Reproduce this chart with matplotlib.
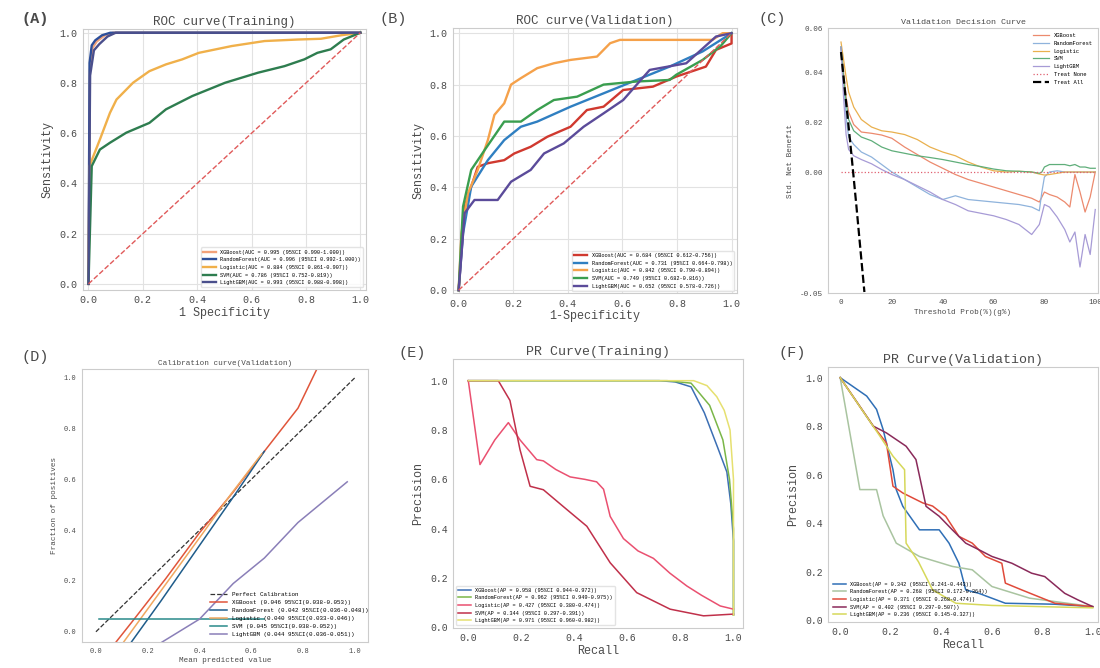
import matplotlib
matplotlib.use("Agg")
import matplotlib.pyplot as plt

plt.rcParams['font.family'] = ['Liberation Mono', 'DejaVu Sans']

MODELS = ["XGBoost", "RandomForest", "Logistic", "SVM", "LightGBM"]

# ---- (A) ROC training
roc_tr_fpr = {
    "XGBoost": [0, 0.005, 0.015, 0.03, 0.06, 0.09, 1.0],
    "RandomForest": [0, 0.004, 0.012, 0.025, 0.05, 0.08, 1.0],
    "Logistic": [0, 0.004, 0.018, 0.042, 0.079, 0.103, 0.164, 0.224, 0.285, 0.345, 0.406,
                 0.527, 0.648, 0.77, 0.855, 0.93, 1.0],
    "SVM": [0, 0.012, 0.042, 0.079, 0.139, 0.224, 0.285, 0.382, 0.503, 0.624, 0.721,
            0.794, 0.842, 0.891, 0.939, 1.0],
    "LightGBM": [0, 0.006, 0.02, 0.04, 0.07, 0.1, 1.0],
}
roc_tr_tpr = {
    "XGBoost": [0, 0.85, 0.94, 0.965, 0.99, 1.0, 1.0],
    "RandomForest": [0, 0.88, 0.95, 0.97, 0.99, 1.0, 1.0],
    "Logistic": [0, 0.469, 0.509, 0.575, 0.681, 0.734, 0.801, 0.847, 0.874, 0.894, 0.92,
                 0.947, 0.967, 0.973, 0.976, 0.99, 1.0],
    "SVM": [0, 0.469, 0.535, 0.562, 0.602, 0.641, 0.695, 0.748, 0.801, 0.841, 0.867,
            0.894, 0.92, 0.934, 0.973, 1.0],
    "LightGBM": [0, 0.83, 0.93, 0.955, 0.985, 1.0, 1.0],
}
roc_tr_labels = [
    "XGBoost(AUC = 0.995 (95%CI 0.990-1.000))",
    "RandomForest(AUC = 0.996 (95%CI 0.992-1.000))",
    "Logistic(AUC = 0.884 (95%CI 0.861-0.907))",
    "SVM(AUC = 0.786 (95%CI 0.752-0.819))",
    "LightGBM(AUC = 0.993 (95%CI 0.988-0.998))",
]

# ---- (B) ROC validation
roc_va_fpr = {
    "XGBoost": [0, 0.022, 0.07, 0.107, 0.167, 0.204, 0.264, 0.325, 0.41, 0.47, 0.531,
                0.603, 0.712, 0.797, 0.906, 0.943, 1.0, 1.0],
    "RandomForest": [0, 0.016, 0.046, 0.107, 0.167, 0.228, 0.288, 0.41, 0.531, 0.652,
                     0.773, 0.894, 1.0],
    "Logistic": [0, 0.01, 0.034, 0.07, 0.107, 0.131, 0.167, 0.192, 0.228, 0.288, 0.349,
                 0.41, 0.507, 0.555, 0.591, 0.93, 0.967, 1.0],
    "SVM": [0, 0.016, 0.046, 0.095, 0.167, 0.228, 0.288, 0.349, 0.434, 0.531, 0.652,
            0.773, 0.797, 0.894, 0.96, 1.0],
    "LightGBM": [0, 0.022, 0.058, 0.143, 0.192, 0.264, 0.313, 0.385, 0.458, 0.531,
                 0.603, 0.7, 0.834, 0.943, 1.0],
}
roc_va_tpr = {
    "XGBoost": [0, 0.325, 0.48, 0.494, 0.506, 0.532, 0.558, 0.597, 0.636, 0.701, 0.714,
                0.779, 0.792, 0.831, 0.87, 0.935, 0.96, 1.0],
    "RandomForest": [0, 0.22, 0.403, 0.506, 0.584, 0.636, 0.656, 0.714, 0.766, 0.818,
                     0.87, 0.929, 1.0],
    "Logistic": [0, 0.22, 0.377, 0.468, 0.584, 0.682, 0.727, 0.8, 0.825, 0.864, 0.883,
                 0.896, 0.909, 0.961, 0.974, 0.974, 1.0, 1.0],
    "SVM": [0, 0.325, 0.468, 0.545, 0.656, 0.656, 0.701, 0.74, 0.753, 0.8, 0.812,
            0.818, 0.838, 0.896, 0.95, 1.0],
    "LightGBM": [0, 0.3, 0.351, 0.351, 0.422, 0.468, 0.532, 0.571, 0.636, 0.688,
                 0.74, 0.857, 0.883, 0.987, 1.0],
}
roc_va_labels = [
    "XGBoost(AUC = 0.684 (95%CI 0.612-0.756))",
    "RandomForest(AUC = 0.731 (95%CI 0.664-0.798))",
    "Logistic(AUC = 0.842 (95%CI 0.790-0.894))",
    "SVM(AUC = 0.749 (95%CI 0.682-0.816))",
    "LightGBM(AUC = 0.652 (95%CI 0.578-0.726))",
]

# ---- (C) decision curve, validation
dc_thresh = [0, 1, 2, 3, 5, 8, 12, 16, 20, 25, 30, 35, 40, 45, 50, 55, 60, 65, 70, 75,
             78, 79, 80, 82, 85, 88, 90, 92, 94, 96, 98, 100]
dc_nb = {
    "XGBoost": [0.050, 0.040, 0.030, 0.024, 0.019, 0.016, 0.0155, 0.0148, 0.0135, 0.010,
                0.007, 0.004, 0.0015, -0.001, -0.003, -0.0045, -0.006, -0.0075, -0.009,
                -0.0105, -0.012, -0.010, -0.008, -0.009, -0.010, -0.012, -0.014, -0.001,
                -0.008, -0.016, -0.010, 0.0],
    "RandomForest": [0.050, 0.036, 0.022, 0.014, 0.011, 0.008, 0.006, 0.003, 0.0, -0.003,
                     -0.006, -0.009, -0.011, -0.0095, -0.011, -0.0115, -0.012, -0.0125,
                     -0.013, -0.014, -0.0155, -0.008, -0.002, 0.0, 0.0005, 0.0, 0.0, 0.0,
                     0.0, 0.0, 0.0, 0.0],
    "Logistic": [0.052, 0.045, 0.038, 0.032, 0.026, 0.021, 0.018, 0.0165, 0.016, 0.015,
                 0.013, 0.010, 0.008, 0.0065, 0.004, 0.002, 0.0005, 0.0, 0.0003, 0.0,
                 -0.0008, -0.001, -0.0012, -0.001, -0.0005, 0.0, 0.0, 0.0, 0.0, 0.0, 0.0,
                 0.0],
    "SVM": [0.050, 0.038, 0.028, 0.021, 0.0165, 0.014, 0.0125, 0.010, 0.0085, 0.0075,
            0.0065, 0.0058, 0.005, 0.004, 0.003, 0.0022, 0.0012, 0.0005, 0.0003, 0.0,
            -0.0005, 0.0, 0.002, 0.003, 0.003, 0.003, 0.0025, 0.003, 0.002, 0.002,
            0.0015, 0.0015],
    "LightGBM": [0.050, 0.030, 0.015, 0.009, 0.0065, 0.005, 0.0033, 0.001, -0.001, -0.003,
                 -0.0055, -0.008, -0.011, -0.013, -0.0155, -0.0165, -0.0175, -0.019,
                 -0.021, -0.025, -0.021, -0.017, -0.013, -0.014, -0.018, -0.023, -0.028,
                 -0.024, -0.038, -0.025, -0.033, -0.015],
}
treat_all_x = [0, 2, 4, 6, 8, 9.2]
treat_all_y = [0.048, 0.028, 0.008, -0.013, -0.035, -0.048]
treat_none_x = [0, 100]
treat_none_y = [0, 0]

# ---- (D) calibration, validation
cal_x = {
    "XGBoost": [0.07, 0.14, 0.27, 0.40, 0.53, 0.65, 0.78, 0.87],
    "RandomForest": [0.13, 0.25, 0.40, 0.53, 0.65],
    "Logistic": [0.10, 0.20, 0.30, 0.40, 0.52, 0.64],
    "SVM": [0.01, 0.20, 0.40, 0.65],
    "LightGBM": [0.24, 0.40, 0.53, 0.65, 0.78, 0.97],
}
cal_y = {
    "XGBoost": [-0.05, 0.04, 0.21, 0.39, 0.55, 0.71, 0.88, 1.07],
    "RandomForest": [-0.05, 0.12, 0.34, 0.53, 0.71],
    "Logistic": [-0.05, 0.09, 0.23, 0.37, 0.54, 0.70],
    "SVM": [0.05, 0.05, 0.05, 0.05],
    "LightGBM": [-0.05, 0.05, 0.19, 0.29, 0.43, 0.59],
}
cal_labels = [
    "XGBoost (0.046 95%CI(0.038-0.053))",
    "RandomForest (0.042 95%CI(0.036-0.048))",
    "Logistic (0.040 95%CI(0.033-0.046))",
    "SVM (0.045 95%CI(0.038-0.052))",
    "LightGBM (0.044 95%CI(0.036-0.051))",
]

# ---- (E) PR training
pr_tr_rec = {
    "XGBoost": [0, 0.5, 0.72, 0.78, 0.84, 0.89, 0.94, 0.975, 0.99, 1.0, 1.0],
    "RandomForest": [0, 0.5, 0.75, 0.84, 0.91, 0.96, 0.985, 1.0, 1.0],
    "Logistic": [0, 0.044, 0.10, 0.151, 0.195, 0.258, 0.283, 0.33, 0.384, 0.44, 0.484,
                 0.51, 0.535, 0.585, 0.64, 0.698, 0.76, 0.824, 0.88, 0.95, 1.0],
    "SVM": [0, 0.113, 0.157, 0.195, 0.233, 0.283, 0.358, 0.447, 0.535, 0.635, 0.761,
            0.887, 1.0],
    "LightGBM": [0, 0.6, 0.85, 0.9, 0.937, 0.965, 0.987, 1.0, 1.0],
}
pr_tr_prec = {
    "XGBoost": [1, 1, 1, 0.995, 0.975, 0.87, 0.73, 0.63, 0.5, 0.35, 0.05],
    "RandomForest": [1, 1, 1, 0.99, 0.9, 0.76, 0.6, 0.4, 0.05],
    "Logistic": [1.0, 0.66, 0.76, 0.83, 0.76, 0.68, 0.675, 0.64, 0.61, 0.60, 0.59, 0.56,
                 0.45, 0.36, 0.31, 0.28, 0.22, 0.168, 0.13, 0.087, 0.074],
    "SVM": [1, 1, 0.92, 0.72, 0.572, 0.558, 0.49, 0.41, 0.262, 0.141, 0.074, 0.047, 0.054],
    "LightGBM": [1, 1, 1, 0.98, 0.935, 0.88, 0.8, 0.6, 0.05],
}
pr_tr_labels = [
    "XGBoost(AP = 0.958 (95%CI 0.944-0.972))",
    "RandomForest(AP = 0.962 (95%CI 0.949-0.975))",
    "Logistic(AP = 0.427 (95%CI 0.380-0.474))",
    "SVM(AP = 0.344 (95%CI 0.297-0.391))",
    "LightGBM(AP = 0.971 (95%CI 0.960-0.982))",
]

# ---- (F) PR validation
pr_va_rec = {
    "XGBoost": [0, 0.105, 0.144, 0.17, 0.209, 0.222, 0.248, 0.314, 0.392, 0.431, 0.47,
                0.497, 0.549, 0.654, 0.85, 1.0],
    "RandomForest": [0, 0.078, 0.144, 0.17, 0.222, 0.314, 0.444, 0.523, 0.601, 0.75, 1.0],
    "Logistic": [0, 0.131, 0.183, 0.209, 0.248, 0.327, 0.366, 0.418, 0.47, 0.523, 0.575,
                 0.64, 0.654, 0.719, 0.85, 1.0],
    "SVM": [0, 0.131, 0.183, 0.261, 0.3, 0.34, 0.392, 0.444, 0.497, 0.549, 0.601, 0.68,
            0.758, 0.81, 0.889, 0.941, 1.0],
    "LightGBM": [0, 0.157, 0.209, 0.255, 0.261, 0.31, 0.366, 0.458, 0.6, 1.0],
}
pr_va_prec = {
    "XGBoost": [1, 0.924, 0.869, 0.786, 0.62, 0.538, 0.469, 0.372, 0.372, 0.317, 0.234,
                0.124, 0.11, 0.069, 0.065, 0.055],
    "RandomForest": [1, 0.538, 0.538, 0.43, 0.317, 0.262, 0.221, 0.207, 0.138, 0.09, 0.055],
    "Logistic": [1, 0.8, 0.731, 0.552, 0.524, 0.483, 0.47, 0.428, 0.345, 0.317, 0.262,
                 0.234, 0.152, 0.124, 0.069, 0.055],
    "SVM": [1, 0.8, 0.772, 0.717, 0.662, 0.469, 0.428, 0.372, 0.317, 0.29, 0.262, 0.234,
            0.193, 0.179, 0.11, 0.083, 0.055],
    "LightGBM": [1, 0.759, 0.676, 0.62, 0.317, 0.24, 0.124, 0.069, 0.06, 0.05],
}
pr_va_labels = [
    "XGBoost(AP = 0.342 (95%CI 0.241-0.443))",
    "RandomForest(AP = 0.268 (95%CI 0.172-0.364))",
    "Logistic(AP = 0.371 (95%CI 0.268-0.474))",
    "SVM(AP = 0.402 (95%CI 0.297-0.507))",
    "LightGBM(AP = 0.236 (95%CI 0.145-0.327))",
]

# colours per panel
col_a = ["#f2a27a", "#2d4f9a", "#f0b04a", "#2e7d4f", "#4a4f8c"]
col_b = ["#d0392f", "#2f7fc1", "#f5a14a", "#3a9e4f", "#5b4b9a"]
col_c = ["#ec8a6e", "#8fb3dc", "#e9b04e", "#5fae7a", "#a79bd6"]
col_d = ["#e0553a", "#1f5c8a", "#f0a860", "#2a8a8a", "#8a7fb8"]
col_e = ["#3c6fb4", "#7ab648", "#ea5070", "#c0304a", "#e6e070"]
col_f = ["#2f6fb6", "#a9c4a0", "#e04a3a", "#8a2a5a", "#d6d85a"]

SPINE = "#cccccc"
TXT = "#4a4a4a"
TICKS = [0, 0.2, 0.4, 0.6, 0.8, 1.0]
TICKLAB = ["0.0", "0.2", "0.4", "0.6", "0.8", "1.0"]


def style_ax(ax, tick_size, grid=False):
    for s in ax.spines.values():
        s.set_color(SPINE)
        s.set_linewidth(0.8)
    ax.tick_params(length=0, labelsize=tick_size, colors=TXT, pad=4)
    if grid:
        ax.grid(True, color="#e2e2e2", lw=0.8)
        ax.set_axisbelow(True)


def unit_ticks(ax):
    ax.set_xticks(TICKS)
    ax.set_yticks(TICKS)
    ax.set_xticklabels(TICKLAB)
    ax.set_yticklabels(TICKLAB)


fig = plt.figure(figsize=(11, 6.68), dpi=100)

# (A)
ax = fig.add_axes([0.0755, 0.566, 0.257, 0.391])
for i, m in enumerate(MODELS):
    ax.plot(roc_tr_fpr[m], roc_tr_tpr[m], color=col_a[i], lw=1.7, label=roc_tr_labels[i])
ax.plot([0, 1], [0, 1], color="#e05a5a", lw=1, ls="--")
ax.set_xlim(-0.02, 1.02)
ax.set_ylim(-0.024, 1.016)
unit_ticks(ax)
style_ax(ax, 7.2, grid=True)
ax.set_title("ROC curve(Training)", fontsize=9, color=TXT, pad=3)
ax.set_xlabel("1 Specificity", fontsize=8.5, color=TXT, labelpad=1)
ax.set_ylabel("Sensitivity", fontsize=8.5, color=TXT)
ax.legend(loc="lower right", fontsize=3.8, frameon=True, edgecolor="#dddddd", handlelength=2.5)
fig.text(0.02, 0.965, "(A)", fontsize=11, fontweight="bold", color=TXT)

# (B)
ax = fig.add_axes([0.412, 0.561, 0.258, 0.397])
for i, m in enumerate(MODELS):
    ax.plot(roc_va_fpr[m], roc_va_tpr[m], color=col_b[i], lw=1.7, label=roc_va_labels[i])
ax.plot([0, 1], [0, 1], color="#e05a5a", lw=1, ls="--")
ax.set_xlim(-0.02, 1.02)
ax.set_ylim(-0.012, 1.02)
unit_ticks(ax)
style_ax(ax, 7.2, grid=True)
ax.set_title("ROC curve(Validation)", fontsize=9, color=TXT, pad=3)
ax.set_xlabel("1-Specificity", fontsize=8.5, color=TXT, labelpad=1)
ax.set_ylabel("Sensitivity", fontsize=8.5, color=TXT)
ax.legend(loc="lower right", fontsize=3.8, frameon=True, edgecolor="#dddddd", handlelength=2.5)
fig.text(0.345, 0.965, "(B)", fontsize=11, color=TXT)

# (C)
ax = fig.add_axes([0.753, 0.561, 0.245, 0.397])
for i, m in enumerate(MODELS):
    ax.plot(dc_thresh, dc_nb[m], color=col_c[i], lw=0.9, label=m)
ax.plot(treat_none_x, treat_none_y, color="#e06070", lw=0.9, ls=":", label="Treat None")
ax.plot(treat_all_x, treat_all_y, color="black", lw=1.6, ls="--", label="Treat All")
ax.set_xlim(-5, 101)
ax.set_ylim(-0.0485, 0.0576)
ax.set_yticks([-0.0485, 0, 0.02, 0.04, 0.0576])
ax.set_yticklabels(["-0.05", "0.00", "0.02", "0.04", "0.06"])
ax.set_xticks([0, 20, 40, 60, 80, 100])
style_ax(ax, 5.5)
ax.set_title("Validation Decision Curve", fontsize=6, color=TXT, pad=3)
ax.set_xlabel("Threshold Prob(%)(g%)", fontsize=5.5, color=TXT, labelpad=2)
ax.set_ylabel("Std. Net Benefit", fontsize=5.5, color=TXT)
ax.legend(loc="upper right", fontsize=4, frameon=False, handlelength=3)
fig.text(0.69, 0.965, "(C)", fontsize=11, color=TXT)

# (D)
ax = fig.add_axes([0.0745, 0.039, 0.26, 0.409])
ax.plot([0, 1], [0, 1], color="#333333", lw=0.9, ls="--", label="Perfect Calibration")
for i, m in enumerate(MODELS):
    ax.plot(cal_x[m], cal_y[m], color=col_d[i], lw=1.1, label=cal_labels[i])
ax.set_xlim(-0.054, 1.05)
ax.set_ylim(-0.04, 1.035)
unit_ticks(ax)
style_ax(ax, 5)
ax.set_title("Calibration curve(Validation)", fontsize=5.5, color=TXT, pad=3)
ax.set_xlabel("Mean predicted value", fontsize=5.5, color=TXT, labelpad=2)
ax.set_ylabel("Fraction of positives", fontsize=5.5, color=TXT)
ax.legend(loc="lower right", fontsize=4.2, frameon=False, handlelength=3,
          bbox_to_anchor=(1.02, 0.0))
fig.text(0.02, 0.46, "(D)", fontsize=11, color=TXT)

# (E)
ax = fig.add_axes([0.412, 0.06, 0.263, 0.403])
for i, m in enumerate(MODELS):
    ax.plot(pr_tr_rec[m], pr_tr_prec[m], color=col_e[i], lw=1.1, label=pr_tr_labels[i])
ax.set_xlim(-0.057, 1.034)
ax.set_ylim(-0.002, 1.089)
unit_ticks(ax)
style_ax(ax, 7)
ax.set_title("PR Curve(Training)", fontsize=9.5, color=TXT, pad=3)
ax.set_xlabel("Recall", fontsize=8.5, color=TXT, labelpad=1)
ax.set_ylabel("Precision", fontsize=8.5, color=TXT)
ax.legend(loc="lower left", fontsize=3.8, frameon=True, edgecolor="#dddddd", handlelength=2.5)
fig.text(0.362, 0.465, "(E)", fontsize=11, color=TXT)

# (F)
ax = fig.add_axes([0.753, 0.069, 0.245, 0.382])
for i, m in enumerate(MODELS):
    ax.plot(pr_va_rec[m], pr_va_prec[m], color=col_f[i], lw=1.1, label=pr_va_labels[i])
ax.set_xlim(-0.047, 1.02)
ax.set_ylim(-0.008, 1.045)
unit_ticks(ax)
style_ax(ax, 7)
ax.set_title("PR Curve(Validation)", fontsize=9.5, color=TXT, pad=3)
ax.set_xlabel("Recall", fontsize=8.5, color=TXT, labelpad=1)
ax.set_ylabel("Precision", fontsize=8.5, color=TXT)
ax.legend(loc="lower left", fontsize=3.8, frameon=False, handlelength=2.5)
fig.text(0.708, 0.465, "(F)", fontsize=11, color=TXT)

fig.savefig("out.png", dpi=100)
